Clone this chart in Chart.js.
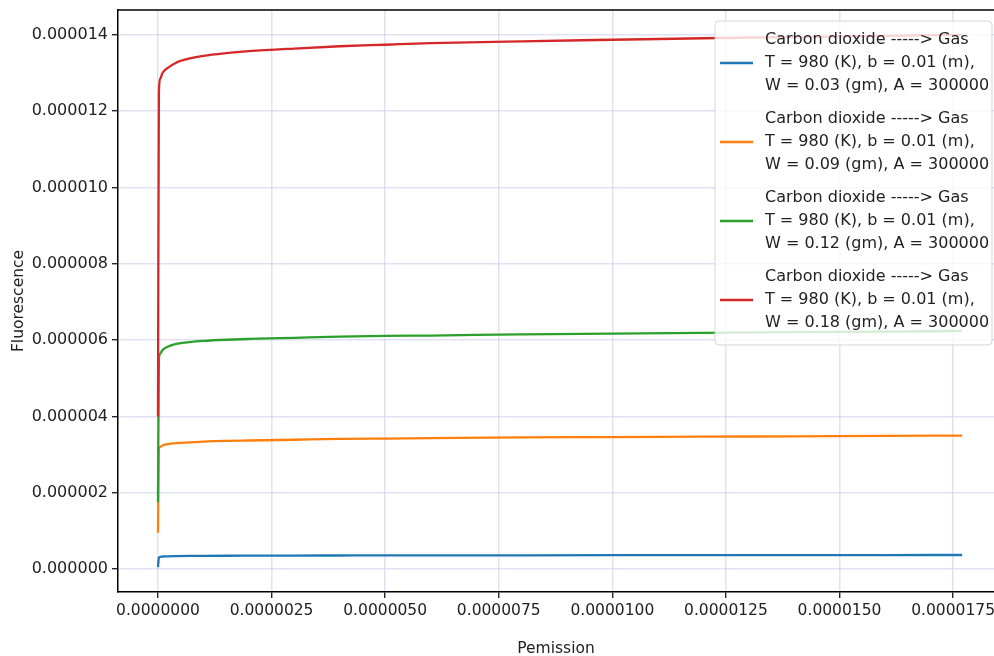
<!DOCTYPE html>
<html>
<head>
<meta charset="utf-8">
<script src="https://cdn.jsdelivr.net/npm/chart.js@4/dist/chart.umd.min.js"></script>
<style>
html,body{margin:0;padding:0;background:#fff;}
#wrap{position:relative;width:994px;height:656px;}
</style>
</head>
<body>
<div id="wrap"><canvas id="c" width="994" height="656"></canvas></div>
<script>
// ---- data ----
const permission = [0, 0.00000002, 0.00000005, 0.0000001, 0.0000002, 0.0000004, 0.0000007, 0.000001, 0.0000015, 0.000002, 0.000003, 0.000004, 0.000005, 0.000006, 0.000008, 0.00001, 0.000012, 0.000014, 0.000016, 0.0000177];
const fluorW003 = [0.05e-6, 0.30e-6, 0.32e-6, 0.33e-6, 0.335e-6, 0.34e-6, 0.345e-6, 0.347e-6, 0.35e-6, 0.352e-6, 0.355e-6, 0.357e-6, 0.359e-6, 0.36e-6, 0.362e-6, 0.364e-6, 0.366e-6, 0.367e-6, 0.368e-6, 0.37e-6];
const fluorW009 = [0.95e-6, 3.15e-6, 3.2e-6, 3.24e-6, 3.27e-6, 3.3e-6, 3.32e-6, 3.34e-6, 3.36e-6, 3.37e-6, 3.39e-6, 3.41e-6, 3.42e-6, 3.43e-6, 3.45e-6, 3.46e-6, 3.47e-6, 3.48e-6, 3.49e-6, 3.5e-6];
const fluorW012 = [1.75e-6, 5.5e-6, 5.65e-6, 5.74e-6, 5.82e-6, 5.9e-6, 5.95e-6, 5.98e-6, 6.01e-6, 6.03e-6, 6.06e-6, 6.09e-6, 6.11e-6, 6.12e-6, 6.15e-6, 6.17e-6, 6.19e-6, 6.21e-6, 6.22e-6, 6.24e-6];
const fluorW018 = [4.0e-6, 12.5e-6, 12.85e-6, 13.0e-6, 13.12e-6, 13.27e-6, 13.38e-6, 13.45e-6, 13.52e-6, 13.57e-6, 13.64e-6, 13.7e-6, 13.74e-6, 13.78e-6, 13.83e-6, 13.87e-6, 13.91e-6, 13.94e-6, 13.97e-6, 14.0e-6];
const seriesLabels = [
  ["Carbon dioxide -----> Gas", "T = 980 (K), b = 0.01 (m),", "W = 0.03 (gm), A = 300000"],
  ["Carbon dioxide -----> Gas", "T = 980 (K), b = 0.01 (m),", "W = 0.09 (gm), A = 300000"],
  ["Carbon dioxide -----> Gas", "T = 980 (K), b = 0.01 (m),", "W = 0.12 (gm), A = 300000"],
  ["Carbon dioxide -----> Gas", "T = 980 (K), b = 0.01 (m),", "W = 0.18 (gm), A = 300000"]
];
const xTicks = [0, 0.0000025, 0.000005, 0.0000075, 0.00001, 0.0000125, 0.000015, 0.0000175];
const yTicks = [0, 0.000002, 0.000004, 0.000006, 0.000008, 0.00001, 0.000012, 0.000014];
const xTitle = "Pemission";
const yTitle = "Fluorescence";
// -------------------------------------

const colors = ['#1f77b4', '#ff7f0e', '#2ca02c', '#d62728'];
const allSeries = [fluorW003, fluorW009, fluorW012, fluorW018];
const FONT = "'DejaVu Sans', sans-serif";

const datasets = allSeries.map((s, i) => ({
  label: seriesLabels[i].join(' '),
  data: permission.map((x, j) => ({x: x, y: s[j]})),
  borderColor: colors[i],
  backgroundColor: colors[i],
  borderWidth: 2.3,
  pointRadius: 0,
  cubicInterpolationMode: 'monotone',
  fill: false,
  order: 4 - i
}));

const gridColor = 'rgba(200,200,235,0.55)';

const frameAndLegend = {
  id: 'frameAndLegend',
  afterDraw(chart) {
    const ctx = chart.ctx;
    const a = chart.chartArea;
    ctx.save();
    // top spine
    ctx.strokeStyle = '#000';
    ctx.lineWidth = 1.5;
    ctx.beginPath();
    ctx.moveTo(a.left, a.top);
    ctx.lineTo(chart.width, a.top);
    ctx.stroke();
    // legend
    const bx = 715, by = 21, bw = 277, bh = 324, r = 4;
    ctx.fillStyle = 'rgba(255,255,255,0.8)';
    ctx.strokeStyle = 'rgba(204,204,204,0.8)';
    ctx.lineWidth = 1;
    ctx.beginPath();
    ctx.moveTo(bx + r, by);
    ctx.lineTo(bx + bw - r, by);
    ctx.quadraticCurveTo(bx + bw, by, bx + bw, by + r);
    ctx.lineTo(bx + bw, by + bh - r);
    ctx.quadraticCurveTo(bx + bw, by + bh, bx + bw - r, by + bh);
    ctx.lineTo(bx + r, by + bh);
    ctx.quadraticCurveTo(bx, by + bh, bx, by + bh - r);
    ctx.lineTo(bx, by + r);
    ctx.quadraticCurveTo(bx, by, bx + r, by);
    ctx.closePath();
    ctx.fill();
    ctx.stroke();
    ctx.font = '16px ' + FONT;
    ctx.textBaseline = 'middle';
    ctx.textAlign = 'left';
    seriesLabels.forEach((lines, i) => {
      const y0 = 40 + i * 79;
      ctx.strokeStyle = colors[i];
      ctx.lineWidth = 2.5;
      ctx.beginPath();
      ctx.moveTo(720, y0 + 23);
      ctx.lineTo(753, y0 + 23);
      ctx.stroke();
      ctx.fillStyle = '#222';
      lines.forEach((t, k) => ctx.fillText(t, 765, y0 + k * 23));
    });
    ctx.restore();
  }
};

new Chart(document.getElementById('c'), {
  type: 'line',
  data: { datasets },
  options: {
    responsive: false,
    animation: false,
    layout: { padding: { top: 10, right: 0, left: 0, bottom: 0 } },
    plugins: { legend: { display: false }, tooltip: { enabled: false } },
    scales: {
      x: {
        type: 'linear',
        min: -0.00000088,
        max: 0.0000184,
        afterBuildTicks: s => { s.ticks = xTicks.map(v => ({value: v})); },
        afterFit: s => { s.height = 64; s.paddingLeft = 0; s.paddingRight = 0; },
        ticks: {
          callback: v => Number(v).toFixed(7),
          color: '#222',
          font: { family: FONT, size: 15.5 },
          padding: 4,
          maxRotation: 0,
          autoSkip: false
        },
        grid: { color: gridColor, lineWidth: 1.5, tickColor: '#000', tickLength: 6, tickWidth: 1.2 },
        border: { color: '#000', width: 1.5 },
        title: { display: true, text: xTitle, color: '#222', font: { family: FONT, size: 15.5 }, padding: { top: 13, bottom: -2 } }
      },
      y: {
        type: 'linear',
        min: -0.0000006,
        max: 0.00001465,
        afterBuildTicks: s => { s.ticks = yTicks.map(v => ({value: v})); },
        afterFit: s => { s.width = 118; s.paddingTop = 0; s.paddingBottom = 0; },
        ticks: {
          callback: v => Number(v).toFixed(6),
          color: '#222',
          font: { family: FONT, size: 16 },
          padding: 4,
          autoSkip: false
        },
        grid: { color: gridColor, lineWidth: 1.5, tickColor: '#000', tickLength: 6, tickWidth: 1.2 },
        border: { color: '#000', width: 1.5 },
        title: { display: true, text: yTitle, color: '#222', font: { family: FONT, size: 15.5 }, padding: { bottom: 0, top: 10 } }
      }
    }
  },
  plugins: [frameAndLegend]
});
</script>
</body>
</html>
